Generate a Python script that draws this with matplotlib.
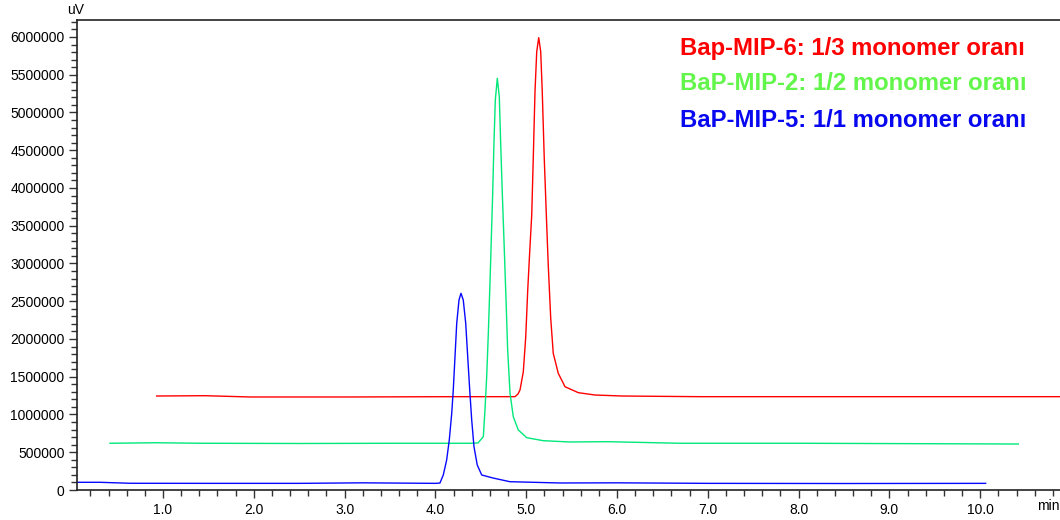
import matplotlib
matplotlib.use("Agg")
import matplotlib.pyplot as plt
from matplotlib.ticker import MultipleLocator, FormatStrFormatter, FuncFormatter

plt.rcParams['font.family'] = ['Liberation Sans', 'DejaVu Sans']

# ---- data (time in min, signal in uV) ----
red_t = [0.931, 1.463, 1.958, 3.059, 4.161, 4.877, 4.910, 4.932, 4.968, 4.995, 5.017, 5.037,
         5.061, 5.078, 5.097, 5.116, 5.138, 5.160, 5.177, 5.199, 5.226, 5.243, 5.270, 5.298,
         5.353, 5.409, 5.427, 5.574, 5.758, 6.052, 6.419, 6.914, 8.500, 10.900]
red_v = [1245000, 1249000, 1232000, 1232000, 1236000, 1236000, 1272000, 1325000, 1563000,
         2026000, 2649000, 3113000, 3642000, 4393000, 5275000, 5805000, 5991000, 5805000,
         5275000, 4393000, 3510000, 2980000, 2278000, 1811000, 1546000, 1413000, 1368000,
         1289000, 1258000, 1245000, 1241000, 1236000, 1236000, 1236000]

green_t = [0.416, 0.934, 1.407, 2.509, 3.610, 4.381, 4.469, 4.528, 4.546, 4.565, 4.583, 4.601,
           4.609, 4.631, 4.645, 4.660, 4.682, 4.704, 4.719, 4.737, 4.761, 4.778, 4.796, 4.822,
           4.858, 4.913, 5.006, 5.188, 5.482, 5.887, 6.694, 8.015, 10.420]
green_v = [619000, 626000, 619000, 616000, 619000, 619000, 623000, 706000, 1060000, 1501000,
           2075000, 2738000, 3046000, 3930000, 4592000, 5166000, 5453000, 5209000, 4592000,
           3930000, 3113000, 2517000, 1854000, 1280000, 971000, 795000, 693000, 653000,
           636000, 640000, 619000, 619000, 609000]

blue_t = [0.053, 0.306, 0.640, 1.500, 2.500, 3.200, 4.000, 4.050, 4.087, 4.124, 4.153, 4.180,
          4.197, 4.216, 4.235, 4.260, 4.282, 4.307, 4.334, 4.356, 4.378, 4.400, 4.425, 4.461,
          4.510, 4.634, 4.820, 5.370, 6.000, 7.000, 8.500, 10.060]
blue_v = [102000, 102000, 89000, 88000, 88000, 95000, 88000, 92000, 199000, 397000, 662000,
          1016000, 1325000, 1766000, 2208000, 2517000, 2605000, 2517000, 2208000, 1766000,
          1325000, 927000, 574000, 331000, 199000, 159000, 110000, 93000, 95000, 88000,
          86000, 88000]

labels = ["Bap-MIP-6: 1/3 monomer oranı",
          "BaP-MIP-2: 1/2 monomer oranı",
          "BaP-MIP-5: 1/1 monomer oranı"]

line_colors = ['#ff0000', '#00e87a', '#0808ff']
text_colors = ['#ff0000', '#62f54a', '#0808f0']

W, H = 1060, 520
fig = plt.figure(figsize=(W / 100, H / 100), dpi=100)
ax = fig.add_axes([77 / W, 30 / H, (W - 77) / W, 470 / H])

ax.plot(red_t, red_v, color=line_colors[0], lw=1.0)
ax.plot(green_t, green_v, color=line_colors[1], lw=1.0)
ax.plot(blue_t, blue_v, color=line_colors[2], lw=1.0)

ax.set_xlim(0.053, 10.879)
ax.set_ylim(0, 6225000)

ax.xaxis.set_major_locator(MultipleLocator(1.0))
ax.xaxis.set_minor_locator(MultipleLocator(0.2))
ax.xaxis.set_major_formatter(FormatStrFormatter('%.1f'))
ax.yaxis.set_major_locator(MultipleLocator(500000))
ax.yaxis.set_minor_locator(MultipleLocator(100000))
ax.yaxis.set_major_formatter(FuncFormatter(lambda v, p: f"{int(round(v))}"))

ax.tick_params(axis='both', which='major', direction='out', length=6, width=1,
               labelsize=10, pad=3, color='#333333')
ax.tick_params(axis='both', which='minor', direction='out', length=4, width=1,
               color='#333333')

for s in ['left', 'bottom', 'top']:
    ax.spines[s].set_linewidth(1.2)
    ax.spines[s].set_color('#222222')
ax.spines['right'].set_visible(False)

fig.text(76 / W, 1 - 10 / H, 'uV', ha='center', va='center', fontsize=10)
fig.text(1037 / W, 1 - 506 / H, 'min', ha='left', va='center', fontsize=10)

ys = [48, 83, 120]
for lab, c, y in zip(labels, text_colors, ys):
    fig.text(680 / W, 1 - y / H, lab, ha='left', va='center', fontsize=17.2,
             fontweight='bold', color=c)

fig.savefig('out.png', dpi=100)
